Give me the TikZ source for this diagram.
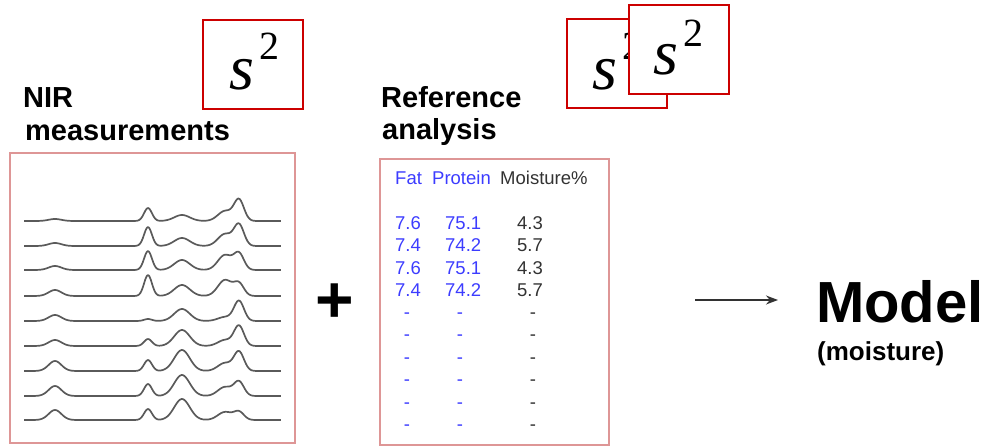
\documentclass[tikz,border=0pt]{standalone}
\usepackage{fontspec}
\setmainfont{Liberation Sans}
\newfontfamily\seriffont{Liberation Serif}
\usetikzlibrary{arrows.meta}
\definecolor{boxpink}{RGB}{222,150,150}
\definecolor{boxred}{RGB}{204,0,0}
\definecolor{tblue}{RGB}{60,60,255}
\definecolor{tgray}{RGB}{50,50,50}
\definecolor{specgray}{RGB}{90,90,90}
\newcommand{\nirline}[7]{%
  \draw[specline] plot[domain=24:281, samples=200, smooth]
    (\x, {#2 - #3*gs(\x,55,9) - #4*gs(\x,148,5.5) - #5*gs(\x,182,11) - #6*gs(\x,225,10) - #7*gs(\x,239,7)});
}
\begin{document}
\begin{tikzpicture}[x=1pt,y=-1pt,
  declare function={gs(\t,\c,\w)=exp(-min(((\t-\c)/\w)^2,20));},
  specline/.style={draw=specgray, line width=1.7pt, line join=round},
  panel/.style={draw=boxpink, line width=2pt, inner sep=0pt},
  sbox/.style={draw=boxred, line width=2pt, fill=white, inner sep=0pt, minimum width=100pt, minimum height=89pt},
  stxt/.style={inner sep=0pt, anchor=base, font=\seriffont\itshape\fontsize{64}{64}\selectfont},
  sup/.style={inner sep=0pt, anchor=base, font=\seriffont\fontsize{40}{40}\selectfont},
  title/.style={inner sep=0pt, anchor=base west, font=\bfseries\fontsize{29}{34}\selectfont},
  hdr/.style={inner sep=0pt, anchor=base west, font=\fontsize{18.5}{20}\selectfont},
  num/.style={inner sep=0pt, anchor=base west, font=\fontsize{18.5}{20}\selectfont},
  dsh/.style={inner sep=0pt, anchor=base, font=\fontsize{18.5}{20}\selectfont},
  arr/.style={draw=tgray, line width=1.5pt, -{Stealth[length=12pt,width=9pt]}}
]
\useasboundingbox (0,0) rectangle (994,446);

% titles
\node[title] (t1) at (23,108) {NIR};
\node[title] (t2) at (25,141) {measurements};
\node[title] (t3) at (381,108) {Reference};
\node[title] (t4) at (382,140) {analysis};

% panels
\node[panel, minimum width=285pt, minimum height=290pt] (nir) at (152.5,298) {};
\node[panel, minimum width=229pt, minimum height=286pt] (ref) at (494.5,302) {};

% spectra
\nirline{1}{221}{2}{13}{6}{10}{21}
\nirline{2}{246}{3}{19}{8}{12}{21}
\nirline{3}{270}{4}{19}{10}{15}{16}
\nirline{4}{296}{6}{21}{11}{16}{12}
\nirline{5}{321}{6}{2}{12}{4}{20}
\nirline{6}{346}{6}{7}{16}{6}{20}
\nirline{7}{371}{10}{11}{21}{8}{19}
\nirline{8}{396}{10}{12}{21}{9}{14}
\nirline{9}{420}{10}{11}{21}{8}{8}

% table header
\node[hdr, text=tblue] (hf) at (395,185) {Fat};
\node[hdr, text=tblue] (hp) at (432,185) {Protein};
\node[hdr, text=tgray] (hm) at (500,185) {Moisture\%};

% table numbers
\foreach \yy/\fa/\pr/\mo [count=\i] in {230/7.6/75.1/4.3, 252/7.4/74.2/5.7, 275/7.6/75.1/4.3, 297/7.4/74.2/5.7}{
  \node[num, text=tblue] (f\i) at (395,\yy) {\fa};
  \node[num, text=tblue] (p\i) at (445,\yy) {\pr};
  \node[num, text=tgray] (m\i) at (517,\yy) {\mo};
}
\foreach \yy [count=\i] in {319,341,364,386,409,431}{
  \node[dsh, text=tblue] (fd\i) at (407,\yy) {-};
  \node[dsh, text=tblue] (pd\i) at (460,\yy) {-};
  \node[dsh, text=tgray] (md\i) at (533,\yy) {-};
}

% plus
\node[inner sep=0pt, anchor=base, font=\bfseries\fontsize{66}{66}\selectfont] (plus) at (335,323) {+};

% arrow
\coordinate (a1) at (695,300);
\coordinate (a2) at (778,300);
\draw[arr] (a1) -- (a2);

% model
\node[inner sep=0pt, anchor=base west, font=\bfseries\fontsize{58}{60}\selectfont] (model) at (816,323) {Model};
\node[inner sep=0pt, anchor=base west, font=\bfseries\fontsize{26}{28}\selectfont] (moist) at (817,361) {(moisture)};

% s^2 boxes
\node[sbox] (s1) at (253,64.5) {};
\node[stxt] (s1s) at (241.5,90) {s};
\node[sup] (s1t) at (269,60) {2};

\node[sbox] (s2) at (616.5,64) {};
\node[stxt] (s2s) at (605,89.5) {s};
\node[sup] (s2t) at (632,59.5) {2};

\node[sbox] (s3) at (678.5,50) {};
\node[stxt] (s3s) at (666,75) {s};
\node[sup] (s3t) at (693,46.5) {2};
\end{tikzpicture}
\end{document}
